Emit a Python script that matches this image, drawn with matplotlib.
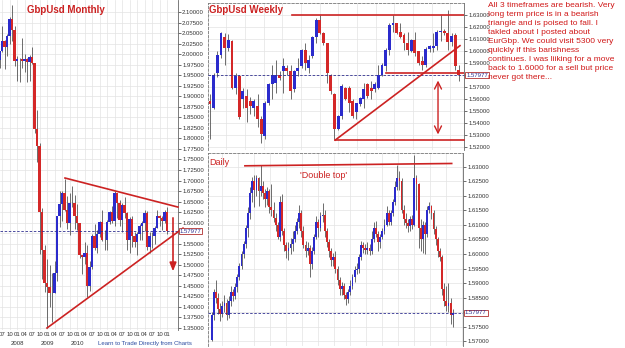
import numpy as np
import matplotlib.pyplot as plt

plt.rcParams['font.family'] = ['Liberation Sans', 'DejaVu Sans']

# ---- monthly GbpUsd, 2007-06 .. 2013-01 (index 0 = 2007-07)
m_open = [1.9850, 2.0070, 2.0315, 2.0180, 2.0435, 2.0830, 2.0575,
          1.9840, 1.9885, 1.9875, 1.9845, 1.9880, 1.9810, 1.9940, 1.9800, 1.8220, 1.7830, 1.6260, 1.5350,
          1.4560, 1.4470, 1.4320, 1.4330, 1.4800, 1.6150, 1.6450, 1.6700, 1.6310, 1.5990, 1.6460, 1.6470,
          1.6150, 1.5985, 1.5240, 1.5180, 1.5290, 1.4500, 1.4950, 1.5680, 1.5390, 1.5720, 1.6020, 1.5580,
          1.5600, 1.6020, 1.6250, 1.6040, 1.6700, 1.6460, 1.6060, 1.6430, 1.6240, 1.5580, 1.6090, 1.5690,
          1.5540, 1.5730, 1.5920, 1.5990, 1.6240, 1.5420, 1.5690, 1.5690, 1.5880, 1.6150, 1.6120, 1.6040,
          1.6250]
m_high = [2.0080, 2.0658, 2.0345, 2.0485, 2.0872, 2.1161, 2.0660,
          1.9950, 1.9900, 2.0395, 2.0000, 1.9900, 1.9980, 2.0160, 1.9800, 1.8680, 1.7900, 1.6360, 1.5460,
          1.5140, 1.4985, 1.4800, 1.5080, 1.6150, 1.6745, 1.6750, 1.7043, 1.6640, 1.6695, 1.6875, 1.6650,
          1.6450, 1.5990, 1.5240, 1.5550, 1.5480, 1.5080, 1.5720, 1.5975, 1.5820, 1.6040, 1.6300, 1.5830,
          1.6060, 1.6280, 1.6400, 1.6747, 1.6700, 1.6545, 1.6470, 1.6620, 1.6245, 1.6140, 1.6170, 1.5780,
          1.5780, 1.5970, 1.6030, 1.6300, 1.6280, 1.5780, 1.5780, 1.5910, 1.6310, 1.6180, 1.6170, 1.6308,
          1.6380]
m_low = [1.9660, 2.0050, 1.9658, 1.9950, 2.0245, 2.0320, 1.9715,
         1.9365, 1.9345, 1.9660, 1.9580, 1.9340, 1.9365, 1.9760, 1.8140, 1.7450, 1.5260, 1.4660, 1.4350,
         1.3503, 1.3990, 1.3650, 1.4320, 1.4620, 1.5900, 1.6050, 1.6270, 1.5850, 1.5707, 1.6380, 1.5840,
         1.5830, 1.5150, 1.4780, 1.5030, 1.4230, 1.4370, 1.4900, 1.5340, 1.5290, 1.5650, 1.5560, 1.5350,
         1.5350, 1.5980, 1.5985, 1.5930, 1.6100, 1.5930, 1.5780, 1.6100, 1.5360, 1.5270, 1.5420, 1.5420,
         1.5235, 1.5600, 1.5600, 1.5800, 1.5360, 1.5270, 1.5400, 1.5490, 1.5880, 1.5910, 1.5830, 1.6000,
         1.5740]
m_close = [2.0070, 2.0315, 2.0180, 2.0435, 2.0830, 2.0575, 1.9840,
           1.9885, 1.9875, 1.9845, 1.9880, 1.9810, 1.9940, 1.9800, 1.8220, 1.7830, 1.6260, 1.5350, 1.4560,
           1.4470, 1.4320, 1.4330, 1.4800, 1.6150, 1.6450, 1.6700, 1.6310, 1.5990, 1.6460, 1.6470, 1.6150,
           1.5985, 1.5240, 1.5180, 1.5290, 1.4500, 1.4950, 1.5680, 1.5390, 1.5720, 1.6020, 1.5580, 1.5600,
           1.6020, 1.6250, 1.6040, 1.6700, 1.6460, 1.6060, 1.6430, 1.6240, 1.5580, 1.6090, 1.5690, 1.5540,
           1.5730, 1.5920, 1.5990, 1.6240, 1.5420, 1.5690, 1.5690, 1.5880, 1.6150, 1.6120, 1.6040, 1.6250,
           1.5798]
m_ticklabels = ['07', '10'] + ['01', '04', '07', '10'] * 5 + ['01']
m_years = ['2008', '2009', '2010']

# ---- weekly GbpUsd
w_open = [1.5585, 1.5530, 1.5818, 1.5968, 1.6119, 1.6023, 1.6078, 1.5694, 1.5790, 1.5599,
          1.5626, 1.5585, 1.5530, 1.5544, 1.5434, 1.5297, 1.5571, 1.5722, 1.5736, 1.5804,
          1.5831, 1.5859, 1.5831, 1.5681, 1.5831, 1.5873, 1.6010, 1.5859, 1.5955, 1.6119,
          1.6256, 1.6147, 1.6064, 1.5804, 1.5640, 1.5352, 1.5462, 1.5694, 1.5694, 1.5585,
          1.5489, 1.5557, 1.5599, 1.5722, 1.5694, 1.5681, 1.5694, 1.5804, 1.5873, 1.6010,
          1.6215, 1.6229, 1.6160, 1.6133, 1.6064, 1.6000, 1.6092, 1.5996, 1.5914, 1.5886,
          1.6015, 1.6020, 1.6037, 1.6155, 1.6166, 1.6147, 1.6070, 1.6133, 1.5845]
w_high = [1.5640, 1.5818, 1.6000, 1.6160, 1.6147, 1.6140, 1.6092, 1.5818, 1.5800, 1.5690,
          1.5681, 1.5620, 1.5600, 1.5640, 1.5460, 1.5585, 1.5730, 1.5886, 1.5927, 1.5830,
          1.5941, 1.5880, 1.5886, 1.5840, 1.5941, 1.6015, 1.6064, 1.5968, 1.6125, 1.6270,
          1.6300, 1.6160, 1.6064, 1.5810, 1.5650, 1.5470, 1.5722, 1.5700, 1.5708, 1.5600,
          1.5571, 1.5620, 1.5736, 1.5730, 1.5749, 1.5740, 1.5886, 1.5900, 1.6023, 1.6229,
          1.6300, 1.6235, 1.6229, 1.6147, 1.6160, 1.6100, 1.6160, 1.6000, 1.5955, 1.6030,
          1.6050, 1.6147, 1.6174, 1.6300, 1.6180, 1.6338, 1.6147, 1.6147, 1.5886]
w_low = [1.5270, 1.5516, 1.5780, 1.5940, 1.5886, 1.6000, 1.5680, 1.5640, 1.5434, 1.5530,
         1.5407, 1.5480, 1.5460, 1.5366, 1.5237, 1.5270, 1.5550, 1.5600, 1.5653, 1.5760,
         1.5653, 1.5800, 1.5599, 1.5660, 1.5790, 1.5860, 1.5845, 1.5818, 1.5940, 1.6064,
         1.6140, 1.6050, 1.5736, 1.5640, 1.5270, 1.5340, 1.5434, 1.5590, 1.5489, 1.5440,
         1.5434, 1.5540, 1.5530, 1.5610, 1.5599, 1.5660, 1.5681, 1.5790, 1.5831, 1.5968,
         1.6160, 1.6140, 1.6105, 1.6010, 1.5968, 1.5990, 1.5955, 1.5880, 1.5845, 1.5870,
         1.5990, 1.5990, 1.6010, 1.6085, 1.6130, 1.6010, 1.6040, 1.5845, 1.5749]
w_close = [1.5557, 1.5804, 1.5968, 1.6147, 1.6023, 1.6092, 1.5694, 1.5790, 1.5448, 1.5667,
           1.5530, 1.5544, 1.5585, 1.5434, 1.5311, 1.5571, 1.5722, 1.5804, 1.5804, 1.5776,
           1.5873, 1.5831, 1.5667, 1.5831, 1.5859, 1.6010, 1.5900, 1.5927, 1.6119, 1.6256,
           1.6147, 1.6064, 1.5818, 1.5667, 1.5352, 1.5462, 1.5708, 1.5599, 1.5571, 1.5462,
           1.5571, 1.5612, 1.5681, 1.5626, 1.5667, 1.5722, 1.5804, 1.5886, 1.6010, 1.6215,
           1.6229, 1.6147, 1.6119, 1.6064, 1.6010, 1.6092, 1.5982, 1.5900, 1.5886, 1.6015,
           1.6037, 1.6037, 1.6160, 1.6166, 1.6147, 1.6070, 1.6125, 1.5873, 1.5804]

# ---- daily GbpUsd
d_open = [1.5705, 1.5790, 1.5870, 1.5850, 1.5810, 1.5795, 1.5820, 1.5830, 1.5790, 1.5840,
          1.5870, 1.5855, 1.5885, 1.5920, 1.5960, 1.6000, 1.6035, 1.6090, 1.6140, 1.6210,
          1.6250, 1.6220, 1.6260, 1.6215, 1.6235, 1.6210, 1.6190, 1.6215, 1.6160, 1.6150,
          1.6125, 1.6100, 1.6060, 1.6180, 1.6080, 1.6030, 1.6010, 1.6020, 1.6035, 1.6050,
          1.6080, 1.6110, 1.6140, 1.6080, 1.6030, 1.6010, 1.6020, 1.5965, 1.6010, 1.6060,
          1.6110, 1.6090, 1.6130, 1.6135, 1.6080, 1.6040, 1.6010, 1.5980, 1.5990, 1.5950,
          1.5910, 1.5880, 1.5890, 1.5860, 1.5845, 1.5870, 1.5890, 1.5920, 1.5945, 1.5950,
          1.5990, 1.6030, 1.6020, 1.6015, 1.6020, 1.6010, 1.6050, 1.6090, 1.6070, 1.6040,
          1.6060, 1.6080, 1.6100, 1.6140, 1.6110, 1.6140, 1.6180, 1.6230, 1.6260, 1.6250,
          1.6150, 1.6120, 1.6105, 1.6095, 1.6120, 1.6100, 1.6260, 1.6240, 1.6090, 1.6050,
          1.6100, 1.6070, 1.6150, 1.6165, 1.6140, 1.6085, 1.6050, 1.6010, 1.5990, 1.5880,
          1.5840, 1.5820, 1.5830, 1.5790]
d_high = [1.5800, 1.5880, 1.5912, 1.5865, 1.5830, 1.5840, 1.5860, 1.5845, 1.5855, 1.5890,
          1.5880, 1.5900, 1.5930, 1.5970, 1.6010, 1.6045, 1.6100, 1.6160, 1.6230, 1.6265,
          1.6270, 1.6270, 1.6265, 1.6305, 1.6250, 1.6225, 1.6230, 1.6225, 1.6240, 1.6180,
          1.6140, 1.6110, 1.6200, 1.6205, 1.6090, 1.6040, 1.6040, 1.6055, 1.6080, 1.6100,
          1.6125, 1.6170, 1.6150, 1.6095, 1.6045, 1.6040, 1.6030, 1.6025, 1.6070, 1.6130,
          1.6120, 1.6145, 1.6175, 1.6150, 1.6090, 1.6050, 1.6020, 1.6005, 1.6010, 1.5960,
          1.5920, 1.5905, 1.5900, 1.5870, 1.5880, 1.5910, 1.5930, 1.5960, 1.5970, 1.6000,
          1.6045, 1.6040, 1.6035, 1.6040, 1.6035, 1.6080, 1.6110, 1.6115, 1.6080, 1.6070,
          1.6090, 1.6120, 1.6165, 1.6150, 1.6150, 1.6190, 1.6250, 1.6305, 1.6285, 1.6260,
          1.6170, 1.6140, 1.6120, 1.6130, 1.6135, 1.6340, 1.6270, 1.6245, 1.6120, 1.6115,
          1.6110, 1.6165, 1.6180, 1.6170, 1.6150, 1.6095, 1.6060, 1.6020, 1.5995, 1.5900,
          1.5890, 1.5900, 1.5850, 1.5810]
d_low = [1.5700, 1.5775, 1.5830, 1.5795, 1.5770, 1.5785, 1.5800, 1.5775, 1.5780, 1.5820,
         1.5840, 1.5845, 1.5870, 1.5910, 1.5950, 1.5985, 1.6020, 1.6060, 1.6120, 1.6180,
         1.6160, 1.6200, 1.6165, 1.6200, 1.6190, 1.6160, 1.6170, 1.6140, 1.6130, 1.6110,
         1.6080, 1.6050, 1.6045, 1.6065, 1.6010, 1.5985, 1.5980, 1.6000, 1.6010, 1.6040,
         1.6070, 1.6090, 1.6060, 1.6020, 1.5990, 1.5995, 1.5920, 1.5950, 1.6000, 1.6050,
         1.6060, 1.6080, 1.6110, 1.6060, 1.6025, 1.5990, 1.5960, 1.5960, 1.5935, 1.5895,
         1.5860, 1.5860, 1.5845, 1.5825, 1.5830, 1.5860, 1.5880, 1.5905, 1.5930, 1.5935,
         1.5980, 1.6005, 1.6000, 1.6000, 1.5995, 1.6000, 1.6040, 1.6060, 1.6010, 1.6020,
         1.6050, 1.6070, 1.6095, 1.6100, 1.6100, 1.6130, 1.6170, 1.6220, 1.6220, 1.6140,
         1.6100, 1.6090, 1.6075, 1.6080, 1.6085, 1.6095, 1.6150, 1.6020, 1.6010, 1.6005,
         1.6000, 1.6060, 1.6140, 1.6120, 1.6070, 1.6030, 1.5990, 1.5975, 1.5860, 1.5820,
         1.5805, 1.5800, 1.5760, 1.5750]
d_close = [1.5790, 1.5870, 1.5850, 1.5810, 1.5795, 1.5820, 1.5830, 1.5790, 1.5840, 1.5870,
           1.5855, 1.5885, 1.5920, 1.5960, 1.6000, 1.6035, 1.6090, 1.6140, 1.6210, 1.6250,
           1.6220, 1.6260, 1.6215, 1.6235, 1.6210, 1.6190, 1.6215, 1.6160, 1.6150, 1.6125,
           1.6100, 1.6060, 1.6180, 1.6080, 1.6030, 1.6010, 1.6020, 1.6035, 1.6050, 1.6080,
           1.6110, 1.6140, 1.6080, 1.6030, 1.6010, 1.6020, 1.5965, 1.6010, 1.6060, 1.6110,
           1.6090, 1.6130, 1.6135, 1.6080, 1.6040, 1.6010, 1.5980, 1.5990, 1.5950, 1.5910,
           1.5880, 1.5890, 1.5860, 1.5845, 1.5870, 1.5890, 1.5920, 1.5945, 1.5950, 1.5990,
           1.6030, 1.6020, 1.6015, 1.6020, 1.6010, 1.6050, 1.6090, 1.6070, 1.6040, 1.6060,
           1.6080, 1.6100, 1.6140, 1.6110, 1.6140, 1.6180, 1.6230, 1.6260, 1.6250, 1.6150,
           1.6120, 1.6105, 1.6095, 1.6120, 1.6100, 1.6260, 1.6240, 1.6090, 1.6050, 1.6100,
           1.6070, 1.6150, 1.6165, 1.6140, 1.6085, 1.6050, 1.6010, 1.5990, 1.5880, 1.5840,
           1.5820, 1.5830, 1.5790, 1.5798]

last_price = 1.57977
note = ("All 3 timeframes are bearish. Very\n"
        "long term price is in a bearish\n"
        "triangle and is poised to fall. I\n"
        "takled about I posted about\n"
        "EurGbp. We could visit 5300 very\n"
        "quickly if this barishness\n"
        "continues. I was liiking for a move\n"
        "back to 1.6000 for a sell but price\n"
        "never got there...")

RED = '#cc2222'
BLUE = '#2b2bcc'
W, H = 625, 348


def rect(l, t, r, b):
    return [l / W, 1 - b / H, (r - l) / W, (b - t) / H]


def candles(ax, x, o, h, l, c, width):
    o, h, l, c = map(np.asarray, (o, h, l, c))
    up = c >= o
    ax.vlines(x, l, h, color='#555555', lw=0.6, zorder=2)
    ax.bar(x[up], (c - o)[up], bottom=o[up], width=width, color=BLUE, lw=0, zorder=3)
    ax.bar(x[~up], (c - o)[~up], bottom=o[~up], width=width, color='#d42828', lw=0, zorder=3)


def style(ax, yticks, hidden, dashed_box=True):
    # the tick hidden behind the price box gets no label
    ax.yaxis.tick_right()
    ax.set_yticks(yticks)
    ax.set_yticklabels(['' if abs(v - hidden) < 1e-6 else '%.5f' % v for v in yticks])
    ax.tick_params(axis='y', labelsize=4.3, length=2, pad=1, colors='#333333', width=0.5)
    ax.tick_params(axis='x', length=0)
    ax.grid(True, color='#e3e3e3', lw=0.5)
    ax.set_axisbelow(True)
    ax.spines['bottom'].set_visible(False)
    ax.spines['right'].set_color('#666666')
    ax.spines['right'].set_linewidth(0.6)
    for s in ('left', 'top'):
        if dashed_box:
            ax.spines[s].set_linestyle((0, (3, 2)))
            ax.spines[s].set_color('#777777')
            ax.spines[s].set_linewidth(0.6)
        else:
            ax.spines[s].set_visible(False)


def price_box(ax, y):
    ax.axhline(y, color='#303090', ls=(0, (3, 2)), lw=0.6, zorder=4)
    ax.text(1.008, y, '%.5f' % y, transform=ax.get_yaxis_transform(), fontsize=4.3,
            color='#303090', va='center', ha='left', zorder=10,
            bbox=dict(boxstyle='square,pad=0.12', fc='white', ec='#b03030', lw=0.6))


fig = plt.figure(figsize=(6.25, 3.48), dpi=100)
fig.patch.set_facecolor('white')

# ---------------- monthly
ax1 = fig.add_axes(rect(0, 0, 178, 330))
mx = np.arange(len(m_open)) - 1
candles(ax1, mx, m_open, m_high, m_low, m_close, 0.85)
ax1.set_xlim(-0.8, 70.4)
ax1.set_ylim(1.3453, 2.1285)
style(ax1, np.arange(1.35, 2.1001, 0.025), 1.575, dashed_box=False)
ax1.set_xticks(np.arange(0, 67, 3))
ax1.set_xticklabels(m_ticklabels)
ax1.tick_params(axis='x', labelsize=4.3, pad=1.5, colors='#333333')
for i, yr in enumerate(m_years):
    ax1.text(6 + 12 * i, -0.042, yr, transform=ax1.get_xaxis_transform(), fontsize=4.3,
             ha='center', va='center', color='#333333')
ax1.text(38.5, -0.042, 'Learn to Trade Directly from Charts', transform=ax1.get_xaxis_transform(),
         fontsize=4.3, ha='left', va='center', color='#2a4aa0')
price_box(ax1, last_price)
ax1.plot([18, 72.4], [1.35, 1.587], color=RED, lw=1.2, clip_on=False, zorder=5)
ax1.plot([25.2, 70.4], [1.706, 1.637], color=RED, lw=1.2, clip_on=False, zorder=5)
ax1.annotate('', xy=(68.4, 1.478), xytext=(68.4, 1.618),
             arrowprops=dict(arrowstyle='-|>,head_width=0.2,head_length=0.5', color=RED, lw=1.2))
ax1.text(10.0, 0.985, 'GbpUsd Monthly', transform=ax1.get_xaxis_transform(), fontsize=7,
         color=RED, fontweight='bold', va='top', ha='left')

# ---------------- weekly
ax2 = fig.add_axes(rect(208, 3, 464, 150))
wx = np.arange(len(w_open))
candles(ax2, wx, w_open, w_high, w_low, w_close, 0.8)
ax2.set_xlim(-0.55, 69.4)
ax2.set_ylim(1.5178, 1.6397)
style(ax2, np.arange(1.52, 1.6301, 0.01), 1.58)
ax2.set_xticks(np.arange(4.5, 70, 5.1))
ax2.set_xticklabels([])
price_box(ax2, last_price)
ax2.plot([22.4, 69.4], [1.630, 1.630], color=RED, lw=1.2, zorder=5)
ax2.plot([48.1, 69.4], [1.5818, 1.5818], color=RED, lw=1.2, zorder=5)
ax2.plot([34.2, 69.4], [1.5260, 1.5260], color=RED, lw=1.2, clip_on=False, zorder=5)
ax2.plot([34.2, 68.3], [1.5260, 1.6043], color=RED, lw=1.2, zorder=5)
ax2.annotate('', xy=(62.3, 1.5284), xytext=(62.3, 1.5777),
             arrowprops=dict(arrowstyle='<->,head_width=0.25,head_length=0.5', color=RED, lw=1.0))
ax2.text(0.004, 0.985, 'GbpUsd Weekly', transform=ax2.transAxes, fontsize=7, color=RED,
         fontweight='bold', va='top', ha='left')

# ---------------- daily
ax3 = fig.add_axes(rect(208, 153, 463, 346))
dx = np.arange(len(d_open))
candles(ax3, dx, d_open, d_high, d_low, d_close, 0.85)
ax3.set_xlim(-1.7, 117.8)
ax3.set_ylim(1.5684, 1.6347)
style(ax3, np.arange(1.57, 1.6301, 0.005), 1.58)
ax3.set_xticks(np.arange(5.0, 118, 7.5))
ax3.set_xticklabels([])
price_box(ax3, last_price)
ax3.plot([15.6, 112.5], [1.6303, 1.6311], color=RED, lw=1.2, zorder=5)
ax3.text(0.006, 0.975, 'Daily', transform=ax3.transAxes, fontsize=6.5, color=RED,
         va='top', ha='left')
ax3.text(0.36, 0.905, "'Double top'", transform=ax3.transAxes, fontsize=6.5, color=RED,
         va='top', ha='left')

# ---------------- comment
fig.text(488 / W, 1 - 2 / H, note, fontsize=6.0, color='#d01818', va='top', ha='left',
         linespacing=1.39)

fig.savefig('out.png', dpi=100)
